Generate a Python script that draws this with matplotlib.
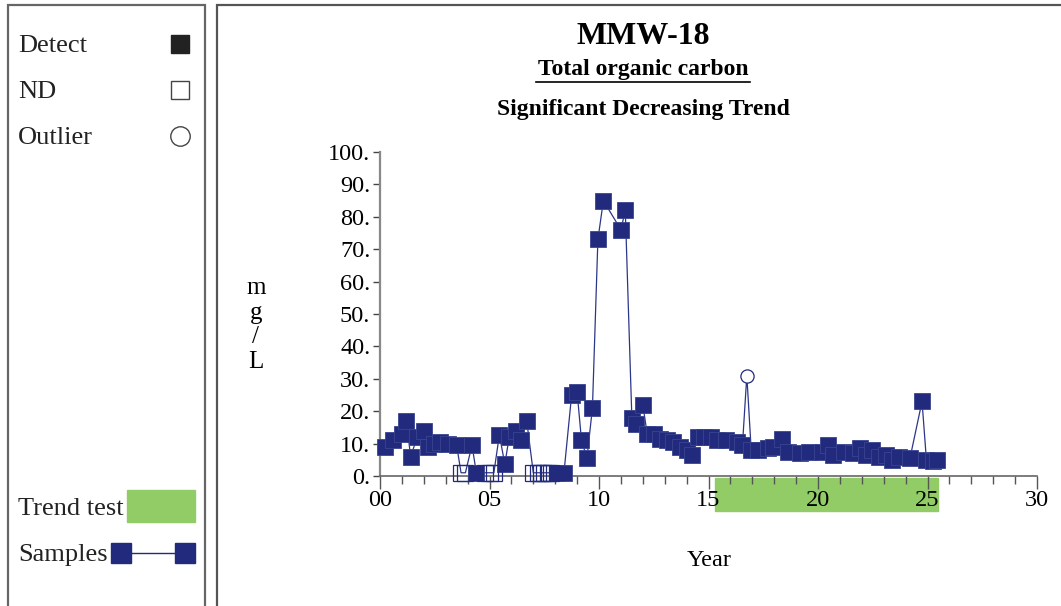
import numpy as np
import matplotlib.pyplot as plt
from matplotlib.patches import Rectangle
from matplotlib.lines import Line2D
import matplotlib.transforms as mtransforms

plt.rcParams['font.family'] = ['Liberation Serif', 'DejaVu Serif']

# sample dates (years since 2000) and values in mg/L
years = [0.23, 0.6, 1.0, 1.2, 1.4, 1.7, 2.0, 2.2, 2.45, 2.75, 3.1, 3.5, 3.7, 3.9,
         4.2, 4.4, 4.8, 5.0, 5.2, 5.45, 5.7, 5.9, 6.2, 6.45, 6.7,
         7.0, 7.2, 7.35, 7.5, 7.65, 7.8, 8.1, 8.4, 8.75, 9.0, 9.2, 9.45, 9.7,
         9.95, 10.2, 11.0, 11.2, 11.5, 11.7, 12.0, 12.2, 12.5, 12.8, 13.1, 13.4,
         13.7, 14.0, 14.25, 14.5, 14.8, 15.1, 15.4, 15.8, 16.3, 16.55, 16.75,
         16.95, 17.25, 17.7, 17.95, 18.35, 18.65, 19.2, 19.6, 20.2, 20.45, 20.7,
         21.2, 21.6, 21.9, 22.2, 22.45, 22.8, 23.1, 23.4, 23.7, 24.2, 24.75,
         24.95, 25.25, 25.45]
values = [9, 11, 13, 17, 6, 12, 14, 9, 10, 10.5, 10, 9.5, 1, 1,
          9.5, 1, 1, 1, 1, 12.7, 3.7, 12, 14, 11, 17,
          1, 1, 1, 1, 1, 1, 1, 1, 25, 26, 11, 5.5, 21,
          73, 85, 76, 82, 18, 16, 22, 13, 13, 11.5, 11, 10.5,
          9, 8, 6.5, 12, 12, 12, 11, 11, 10.5, 9.5, 31,
          8, 8, 8.5, 9, 11.5, 7.5, 7, 7.5, 7.5, 9.5, 6.5,
          7.5, 7, 8.5, 6.5, 8, 6, 6.5, 5, 6, 5.5, 23,
          5, 4.5, 5]
nd_years = [3.7, 3.9, 4.8, 5.0, 5.2, 7.0, 7.2, 7.35, 7.5, 7.65, 7.8]
outlier_years = [16.75]

trend_start, trend_end = 15.3, 25.5
x_ticks = [0, 5, 10, 15, 20, 25, 30]
x_labels = ['00', '05', '10', '15', '20', '25', '30']
y_ticks = list(range(0, 101, 10))

navy = '#212a7c'
green = '#92cc67'

fig = plt.figure(figsize=(10.61, 6.06), dpi=100)
W, H = 1061, 606

def fx(px):
    return px / W

def fy(py):
    return 1 - py / H

# panel frames
fig.patches.append(Rectangle((fx(8), fy(620)), fx(197), fy(5) - fy(620),
                             transform=fig.transFigure, fill=False,
                             edgecolor='#666666', linewidth=1.6))
fig.patches.append(Rectangle((fx(217), fy(620)), fx(900), fy(5) - fy(620),
                             transform=fig.transFigure, fill=False,
                             edgecolor='#555555', linewidth=1.6))

# left legend panel
for label, py in [('Detect', 46), ('ND', 92), ('Outlier', 138),
                  ('Trend test', 509), ('Samples', 555)]:
    fig.text(fx(18), fy(py), label, fontsize=19, va='center', ha='left', color='#222222')
fig.add_artist(Line2D([fx(180)], [fy(44)], marker='s', markersize=13.5,
                      color='#222222', transform=fig.transFigure))
fig.add_artist(Line2D([fx(180)], [fy(90)], marker='s', markersize=13.5,
                      markerfacecolor='white', markeredgecolor='#444444',
                      markeredgewidth=1, transform=fig.transFigure))
fig.add_artist(Line2D([fx(180)], [fy(136)], marker='o', markersize=14,
                      markerfacecolor='white', markeredgecolor='#444444',
                      markeredgewidth=1, transform=fig.transFigure))
fig.patches.append(Rectangle((fx(127), fy(522)), fx(68), fy(490) - fy(522),
                             transform=fig.transFigure, color=green))
fig.add_artist(Line2D([fx(121), fx(185)], [fy(553), fy(553)], marker='s',
                      markersize=14.5, color=navy, linewidth=1,
                      transform=fig.transFigure))

# titles
fig.text(fx(643), fy(37), 'MMW-18', fontsize=23, fontweight='bold', ha='center', va='center')
fig.text(fx(643), fy(70), 'Total organic carbon', fontsize=17, fontweight='bold',
         ha='center', va='center')
fig.add_artist(Line2D([fx(536), fx(750)], [fy(82), fy(82)], color='black',
                      linewidth=1.2, transform=fig.transFigure))
fig.text(fx(643), fy(109), 'Significant Decreasing Trend', fontsize=17,
         fontweight='bold', ha='center', va='center')

ax = fig.add_axes([fx(380), fy(476), fx(1037) - fx(380), fy(152) - fy(476)])
ax.set_xlim(0, 30)
ax.set_ylim(0, 100)

yrs = np.array(years)
vals = np.array(values)
is_nd = np.isin(yrs, nd_years)
is_out = np.isin(yrs, outlier_years)
is_det = ~is_nd & ~is_out

ax.plot(yrs, vals, color='#2c3688', linewidth=0.9, zorder=2)
ax.plot(yrs[is_det], vals[is_det], 's', color=navy, markersize=12, linestyle='none',
        markeredgecolor='#3a4590', markeredgewidth=0.6, zorder=3, clip_on=False)
ax.plot(yrs[is_nd], vals[is_nd], 's', markerfacecolor='none', markeredgecolor=navy,
        markersize=12, markeredgewidth=0.9, linestyle='none', zorder=3, clip_on=False)
ax.plot(yrs[is_out], vals[is_out], 'o', markerfacecolor='white', markeredgecolor=navy,
        markersize=9.5, markeredgewidth=0.9, linestyle='none', zorder=3)

# trend test period below the axis
trans = mtransforms.blended_transform_factory(ax.transData, ax.transAxes)
ax.add_patch(Rectangle((trend_start, -0.108), trend_end - trend_start, 0.102,
                       transform=trans, color=green, clip_on=False, zorder=0.5))

ax.set_xticks(x_ticks)
ax.set_xticklabels(x_labels)
ax.set_xticks(np.arange(0, 31, 1), minor=True)
ax.set_yticks(y_ticks)
ax.set_yticklabels([f'{t}.' for t in y_ticks])
ax.tick_params(axis='x', which='major', length=9, width=1, labelsize=17.5,
               color='#555555', pad=1)
ax.tick_params(axis='x', which='minor', length=6, width=1, color='#555555')
ax.tick_params(axis='y', length=5, width=1, labelsize=17.5, color='#444444', pad=2)

for s in ['top', 'right']:
    ax.spines[s].set_visible(False)
ax.spines['left'].set_color('#888888')
ax.spines['left'].set_linewidth(1.6)
ax.spines['bottom'].set_color('#666666')
ax.spines['bottom'].set_linewidth(1.2)

fig.text(fx(709), fy(561), 'Year', fontsize=17.5, ha='center', va='center')
fig.text(fx(256), fy(325), 'm\ng\n/\nL', fontsize=18, ha='center', va='center',
         linespacing=1.15)

fig.savefig('out.png', dpi=100)
